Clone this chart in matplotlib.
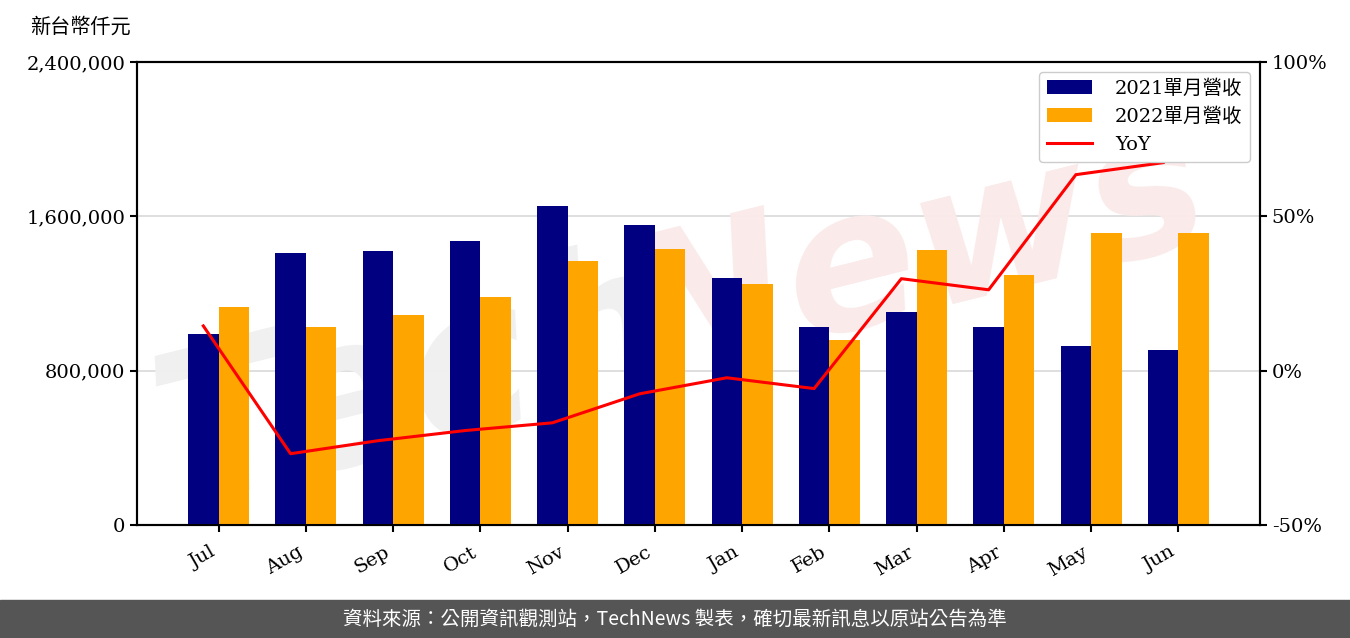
import matplotlib
matplotlib.use("Agg")
import matplotlib.pyplot as plt
import numpy as np
from matplotlib.ticker import FuncFormatter, FixedLocator

plt.rcParams['font.family'] = ['DejaVu Serif', 'Noto Sans CJK TC', 'DejaVu Sans']

months = ['Jul', 'Aug', 'Sep', 'Oct', 'Nov', 'Dec', 'Jan', 'Feb', 'Mar', 'Apr', 'May', 'Jun']
rev_2021 = [990000, 1410000, 1420000, 1472000, 1654000, 1555000, 1280000, 1026000, 1104000, 1026000, 928000, 907000]
rev_2022 = [1130000, 1026000, 1089000, 1182000, 1368000, 1431000, 1249000, 959000, 1425000, 1296000, 1514000, 1514000]
yoy = [14.5, -26.9, -22.7, -19.4, -16.9, -7.5, -2.3, -5.8, 29.8, 26.2, 63.5, 67.4]

label_2021 = '2021單月營收'
label_2022 = '2022單月營收'
label_yoy = 'YoY'
unit_label = '新台幣仟元'
source_text = '資料來源：公開資訊觀測站，TechNews 製表，確切最新訊息以原站公告為準'

fig = plt.figure(figsize=(13.5, 6.38), dpi=100)
ax = fig.add_axes([137/1350, 113/638, (1260-137)/1350, (525-62)/638])

x = np.arange(len(months))
w = 0.35
ax.bar(x, rev_2021, w, color='#000080', label=label_2021, zorder=3)
ax.bar(x + w, rev_2022, w, color='#FFA500', label=label_2022, zorder=3)
ax.set_ylim(0, 2400000)
ax.yaxis.set_major_locator(FixedLocator([0, 800000, 1600000, 2400000]))
ax.yaxis.set_major_formatter(FuncFormatter(lambda v, p: f'{int(v):,}'))
ax.set_xticks(x + w / 2)
ax.set_xticklabels(months, rotation=30, ha='right')
ax.grid(axis='y', color='#d9d9d9', linewidth=1.2, zorder=0)
ax.set_axisbelow(True)
ax.tick_params(axis='both', labelsize=14, length=5, width=1.5)
ax.tick_params(axis='x', pad=8)
for s in ax.spines.values():
    s.set_linewidth(1.5)

# watermark
ax.text(0.0, 0.30, 'Tech', transform=ax.transAxes, fontsize=150, fontstyle='italic',
        fontweight='bold', color='#f0f0f0', rotation=14, zorder=1, clip_on=True,
        family='DejaVu Sans', ha='left', va='center')
ax.text(0.42, 0.58, 'News', transform=ax.transAxes, fontsize=140, fontstyle='italic',
        fontweight='bold', color='#faeaea', rotation=14, zorder=1, clip_on=True,
        family='DejaVu Sans', ha='left', va='center')

ax2 = ax.twinx()
ax2.plot(x, yoy, color='red', linewidth=2.2, label=label_yoy, zorder=4)
ax2.set_ylim(-50, 100)
ax2.yaxis.set_major_locator(FixedLocator([-50, 0, 50, 100]))
ax2.yaxis.set_major_formatter(FuncFormatter(lambda v, p: f'{int(v)}%'))
ax2.tick_params(axis='y', labelsize=14, length=5, width=1.5)
for s in ax2.spines.values():
    s.set_linewidth(1.5)

h1, l1 = ax.get_legend_handles_labels()
h2, l2 = ax2.get_legend_handles_labels()
leg = ax2.legend(h1 + h2, l1 + l2, loc='upper right', fontsize=14, framealpha=1,
                 edgecolor='#cccccc', handlelength=2.3, handletextpad=1.2)

fig.text(30/1350, 1 - 27/638, unit_label, fontsize=14.5, ha='left', va='center')

# bottom banner
fig.patches.append(plt.Rectangle((0, 0), 1, 38/638, transform=fig.transFigure,
                                 color='#555555', zorder=0))
fig.text(0.5, 19/638, source_text, color='white', fontsize=14, ha='center', va='center',
         family=['Noto Sans CJK TC', 'DejaVu Sans'])

fig.savefig('out.png', dpi=100)
